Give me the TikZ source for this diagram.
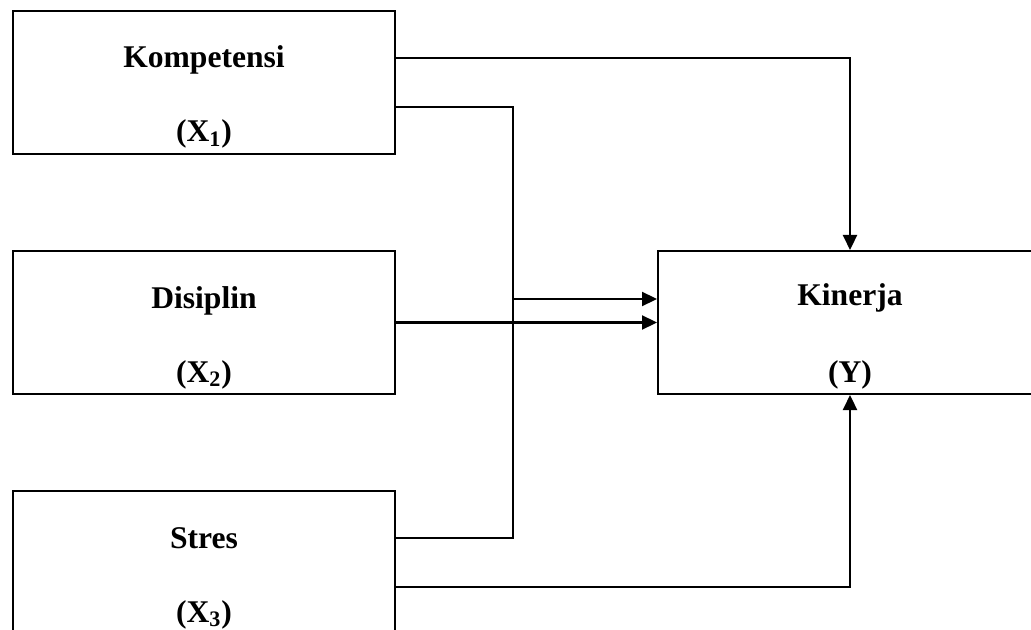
\documentclass[tikz,border=0pt]{standalone}
\usepackage{fontspec}
\setmainfont{Liberation Serif}
\usetikzlibrary{arrows.meta}
\begin{document}
\begin{tikzpicture}[x=0.5pt,y=-0.5pt,
  box/.style={draw,line width=1pt,minimum width=191pt,minimum height=71.5pt,inner sep=0pt},
  lbl/.style={anchor=base,inner sep=0pt,font=\fontsize{15.8}{18}\selectfont\bfseries},
  conn/.style={line width=1.1pt},
  arr/.style={conn,-{Triangle[length=7.5pt,width=7pt]}}]
\useasboundingbox (0,0) rectangle (1031,630);
\node[box] (k) at (204,82.5) {};
\node[box] (d) at (204,322.5) {};
\node[box] (s) at (204,562.5) {};
\node[box,minimum width=192pt] (y) at (850,322.5) {};
\node[lbl] (kt) at (204,68) {Kompetensi};
\node[lbl] (kx) at (204,142) {(X\textsubscript{1})};
\node[lbl] (dt) at (204,308) {Disiplin};
\node[lbl] (dx) at (204,382) {(X\textsubscript{2})};
\node[lbl] (st) at (204,548) {Stres};
\node[lbl] (sx) at (204,622) {(X\textsubscript{3})};
\node[lbl] (yt) at (850,306) {Kinerja};
\node[lbl] (yx) at (850,382) {(Y)};
\coordinate (j1) at (513,107);
\coordinate (j2) at (513,538);
\coordinate (j3) at (513,299);
\draw[arr] ([yshift=12.25pt]k.east) -| (y.north);
\draw[conn] ([yshift=-12.25pt]k.east) -- (j1) -- (j2) -- ([yshift=12.25pt]s.east);
\draw[arr] (j3) -- ([yshift=11.75pt]y.west);
\draw[arr] (d.east) -- (y.west);
\draw[arr] ([yshift=-12.25pt]s.east) -| (y.south);
\end{tikzpicture}
\end{document}
